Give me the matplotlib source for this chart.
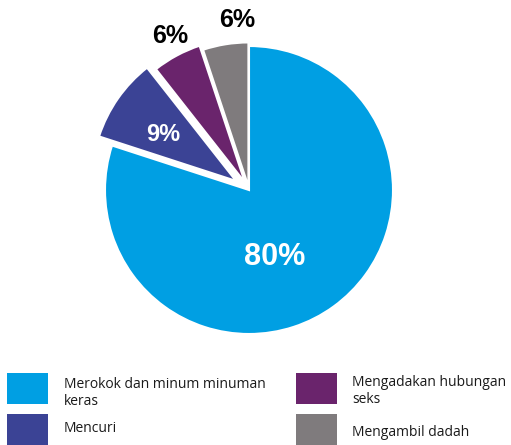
import numpy as np
import matplotlib.pyplot as plt
from matplotlib.patches import Rectangle

labels = ['Merokok dan minum minuman\nkeras', 'Mencuri',
          'Mengadakan hubungan\nseks', 'Mengambil dadah']
values = [80, 9.4, 5.5, 5.1]
pct_text = ['80%', '9%', '6%', '6%']
colors = ['#009fe3', '#3b4395', '#6a246c', '#7f7b7d']

W, H = 511, 445
fig = plt.figure(figsize=(W / 100, H / 100), dpi=100)
ax = fig.add_axes([0, 0, 1, 1])
R = 144.0

explode = [0, 0.11, 0.06, 0.025]
wedges, _ = ax.pie(values, colors=colors, startangle=90, counterclock=False,
                   explode=explode, radius=1,
                   wedgeprops=dict(edgecolor='white', linewidth=1.5))
ax.set_xlim(-249 / R, (W - 249) / R)
ax.set_ylim(-(H - 190) / R, 190 / R)
ax.set_aspect('equal')
ax.axis('off')

# label placement (angle in degrees, radius), colour, size
lab_ang = [-69, 147, 117, 94]
lab_r = [0.5, 0.71, 1.2, 1.18]
lab_c = ['white', 'white', 'black', 'black']
lab_s = [22, 17, 18, 18]
for t, a, r, c, s in zip(pct_text, lab_ang, lab_r, lab_c, lab_s):
    ang = np.deg2rad(a)
    ax.text(r * np.cos(ang), r * np.sin(ang), t, color=c,
            fontsize=s, fontweight='bold', family='Liberation Sans',
            ha='center', va='center')

# legend drawn by hand (pixel positions from top-left)
box_x = [7, 7, 296, 296]
box_y = [373, 414, 373, 414]
box_w, box_h = 41, 31
txt_x = [64, 64, 352, 352]
txt_y = [393, 428, 391, 433]
for i in range(4):
    fig.add_artist(Rectangle((box_x[i] / W, 1 - (box_y[i] + box_h) / H),
                             box_w / W, box_h / H, transform=fig.transFigure,
                             facecolor=colors[i], edgecolor='none'))
    fig.text(txt_x[i] / W, 1 - txt_y[i] / H, labels[i], fontsize=10,
             family='Open Sans', ha='left', va='center', linespacing=1.25,
             color='#1a1a1a')

fig.savefig('out.png', dpi=100)
